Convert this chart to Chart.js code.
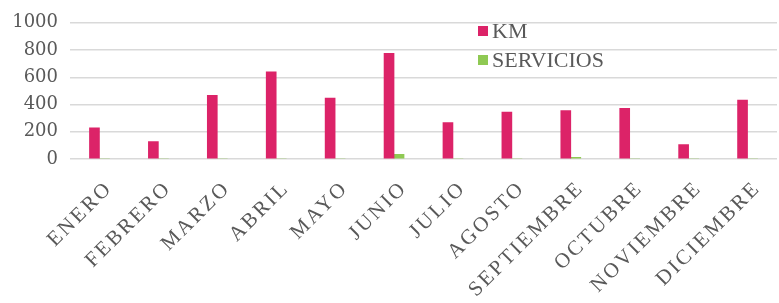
<!DOCTYPE html>
<html>
<head>
<meta charset="utf-8">
<script src="https://cdn.jsdelivr.net/npm/chart.js@4.4.1/dist/chart.umd.min.js"></script>
<style>
  html, body { margin: 0; padding: 0; background: #fff; }
  canvas { display: block; }
</style>
</head>
<body>
<canvas id="chart" width="779" height="303"></canvas>
<script>
// datos
var meses = ["ENERO", "FEBRERO", "MARZO", "ABRIL", "MAYO", "JUNIO", "JULIO", "AGOSTO", "SEPTIEMBRE", "OCTUBRE", "NOVIEMBRE", "DICIEMBRE"];
var km = [228, 128, 468, 640, 448, 775, 268, 345, 355, 372, 105, 432];
var servicios = [0, 0, 0, 0, 0, 35, 0, 0, 12, 0, 0, 0];
var yTicks = [0, 200, 400, 600, 800, 1000];

var gris = "#595959";

// leyenda dibujada dentro del area del grafico
var leyendaDentro = {
  id: "leyendaDentro",
  afterDraw: function (chart) {
    var c = chart.ctx;
    c.save();
    c.font = "22px 'Liberation Serif'";
    c.textBaseline = "middle";
    chart.data.datasets.forEach(function (ds, i) {
      var y = 31 + i * 29;
      c.fillStyle = ds.backgroundColor;
      c.fillRect(478, y - 5, 10, 10);
      c.fillStyle = gris;
      c.fillText(ds.label, 492, y + 1);
    });
    c.restore();
  }
};

// etiquetas del eje x a 45 grados
var etiquetasX = {
  id: "etiquetasX",
  afterDraw: function (chart) {
    var x = chart.scales.x;
    var c = chart.ctx;
    c.save();
    c.font = "21px 'Liberation Serif'";
    c.letterSpacing = "2.5px";
    c.fillStyle = gris;
    c.textAlign = "right";
    c.textBaseline = "middle";
    chart.data.labels.forEach(function (lab, i) {
      c.save();
      c.translate(x.getPixelForTick(i) + 10, x.top + 26);
      c.rotate(-Math.PI / 4);
      c.fillText(lab, 0, 0);
      c.restore();
    });
    c.restore();
  }
};

var ctx = document.getElementById("chart").getContext("2d");
var grafico = new Chart(ctx, {
  type: "bar",
  data: {
    labels: meses,
    datasets: [
      {
        label: "KM",
        data: km,
        backgroundColor: "#dc2368",
        barThickness: 10
      },
      {
        label: "SERVICIOS",
        data: servicios,
        backgroundColor: "#8fc953",
        barThickness: 10
      }
    ]
  },
  options: {
    responsive: false,
    animation: false,
    layout: {
      padding: { left: 12, right: 2, top: 20, bottom: 0 }
    },
    plugins: {
      legend: { display: false },
      tooltip: { enabled: false }
    },
    scales: {
      x: {
        grid: { display: false },
        border: { display: false },
        ticks: { display: false },
        afterFit: function (scale) {
          scale.height = 144;
        }
      },
      y: {
        min: 0,
        max: 1000,
        afterBuildTicks: function (scale) {
          scale.ticks = yTicks.map(function (v) { return { value: v }; });
        },
        grid: { color: "#d9d9d9", lineWidth: 1.5, drawTicks: false },
        border: { display: false },
        ticks: {
          color: gris,
          font: { family: "'DejaVu Serif'", size: 18 },
          padding: 12,
          callback: function (v) { return String(v); }
        },
        afterFit: function (scale) {
          scale.width = 58;
        }
      }
    }
  },
  plugins: [leyendaDentro, etiquetasX]
});
</script>
</body>
</html>
